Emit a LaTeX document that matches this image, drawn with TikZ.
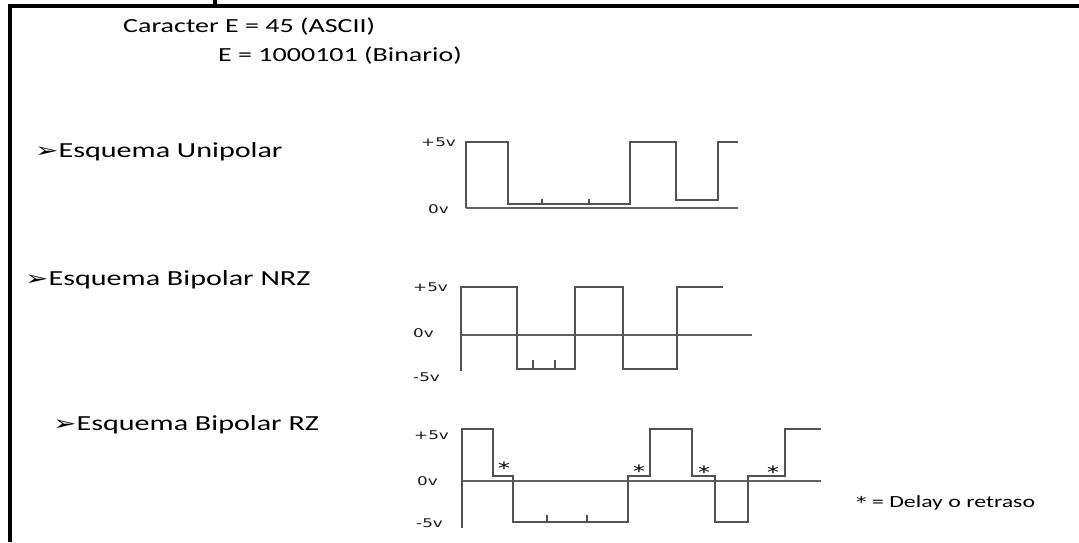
\documentclass[tikz,border=0pt]{standalone}
\usepackage{fontspec}
\setmainfont{Carlito}
\newfontfamily\dv{DejaVu Sans}
\newcommand\sx[1]{\scalebox{1.4}[1]{#1}}
\newcommand\arr{{\dv\fontsize{20}{20}\selectfont ➢}}
\begin{document}
\begin{tikzpicture}[x=1pt,y=-1pt,
  frame/.style={line width=3.5pt,black},
  sig/.style={line width=2.6pt,draw=black!68,line join=miter},
  axisline/.style={line width=2pt,draw=black!62},
  tick/.style={line width=2pt,draw=black!68},
  title/.style={font=\fontsize{20}{24}\selectfont,anchor=west,inner sep=0pt,text=black},
  esq/.style={font=\fontsize{21.5}{24}\selectfont,anchor=west,inner sep=0pt,text=black},
  volt/.style={font=\dv\fontsize{12}{14}\selectfont,anchor=west,inner sep=0pt,text=black!90},
  star/.style={font=\dv\fontsize{17}{18}\selectfont,inner sep=0pt,text=black},
  legend/.style={font=\fontsize{17}{20}\selectfont,anchor=west,inner sep=0pt,text=black}]
\useasboundingbox (0,0) rectangle (1079,542);
% frame
\draw[frame] (10,542) -- (10,6) -- (1079,6);
\draw[frame] (215,0) -- (215,6);
% titles
\node[title] (t1) at (123,27) {\sx{Caracter E = 45 (ASCII)}};
\node[title] (t2) at (218,56) {\sx{E = 1000101 (Binario)}};
% scheme labels
\node[esq] (e1) at (35,152) {\sx{\arr Esquema Unipolar}};
\node[esq] (e2) at (25,280) {\sx{\arr Esquema Bipolar NRZ}};
\node[esq] (e3) at (53,425) {\sx{\arr Esquema Bipolar RZ}};
% ---------- Unipolar
\node[volt] (u5) at (421,142) {\sx{+5v}};
\node[volt] (u0) at (428,209) {\sx{0v}};
\draw[axisline] (466,208) -- (738,208);
\draw[sig] (466,208) -- (466,142) -- (508,142) -- (508,204) -- (630,204) -- (630,142)
  -- (676,142) -- (676,200) -- (718,200) -- (718,142) -- (738,142);
\draw[tick] (542,204) -- (542,199);
\draw[tick] (589,204) -- (589,199);
% ---------- Bipolar NRZ
\node[volt] (n5) at (413,287) {\sx{+5v}};
\node[volt] (n0) at (413,333) {\sx{0v}};
\node[volt] (nm) at (413,377) {\sx{-5v}};
\draw[axisline] (461,335) -- (752,335);
\draw[sig] (461,371) -- (461,287) -- (517,287) -- (517,369) -- (575,369) -- (575,287)
  -- (623,287) -- (623,369) -- (677,369) -- (677,287) -- (723,287);
\draw[tick] (533,369) -- (533,360);
\draw[tick] (555,369) -- (555,360);
% ---------- Bipolar RZ
\node[volt] (r5) at (414,435) {\sx{+5v}};
\node[volt] (r0) at (417,481) {\sx{0v}};
\node[volt] (rm) at (416,523) {\sx{-5v}};
\draw[axisline] (462,481) -- (821,481);
\draw[sig] (462,528) -- (462,429) -- (493,429) -- (493,476) -- (513,476) -- (513,522)
  -- (628,522) -- (628,476) -- (650,476) -- (650,429) -- (692,429) -- (692,476)
  -- (715,476) -- (715,522) -- (748,522) -- (748,476) -- (785,476) -- (785,429) -- (821,429);
\draw[tick] (547,522) -- (547,515);
\draw[tick] (587,522) -- (587,515);
\node[star] (s1) at (504,468) {\sx{*}};
\node[star] (s2) at (639,471) {\sx{*}};
\node[star] (s3) at (704,472) {\sx{*}};
\node[star] (s4) at (773,472) {\sx{*}};
\node[legend] (lg) at (856,503) {\sx{{\dv\fontsize{15}{15}\selectfont *} = Delay o retraso}};
\end{tikzpicture}
\end{document}
